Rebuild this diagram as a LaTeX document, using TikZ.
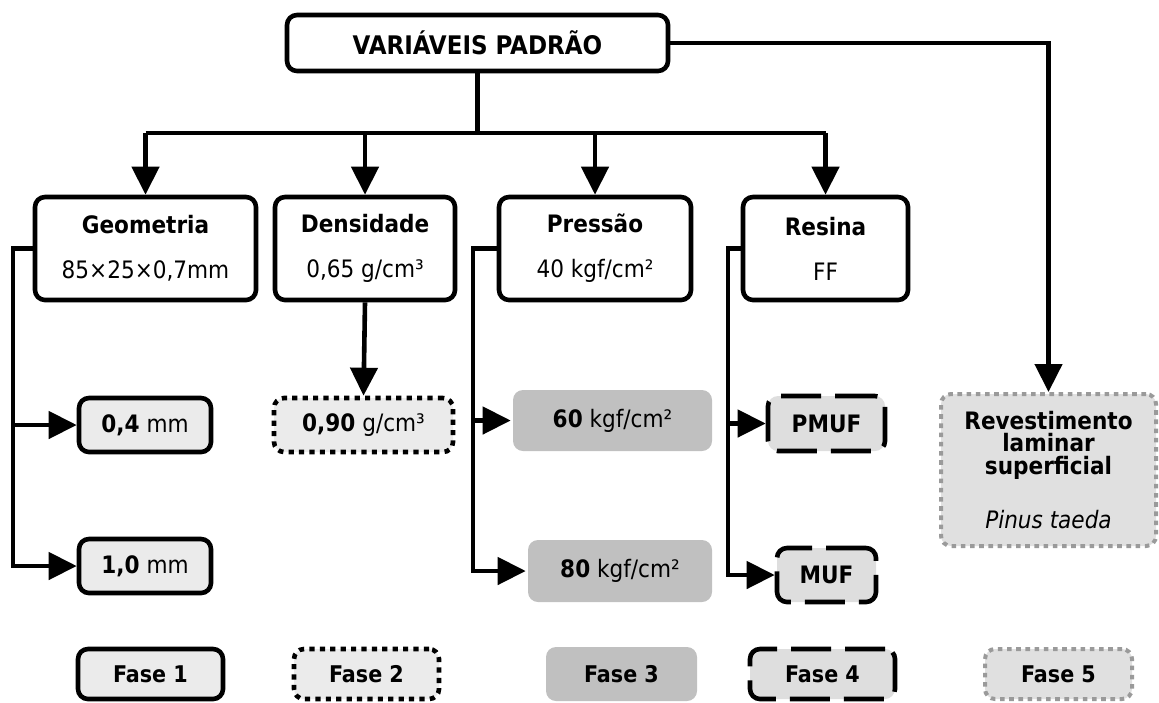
\documentclass[tikz,border=0pt]{standalone}
\usepackage{fontspec}
\IfFontExistsTF{DejaVu Sans Condensed}
  {\setmainfont{DejaVu Sans Condensed}}
  {\setmainfont{DejaVu Sans}[Scale=0.9]}
\usetikzlibrary{arrows.meta}

\definecolor{lightfill}{HTML}{EBEBEB}
\definecolor{midfill}{HTML}{C0C0C0}
\definecolor{dashfill}{HTML}{DEDEDE}
\definecolor{dotfill}{HTML}{E0E0E0}
\definecolor{dotgray}{HTML}{9A9A9A}

\begin{document}
\begin{tikzpicture}[
  x=0.5pt, y=-0.5pt,
  box/.style={draw, line width=2.3pt, rounded corners=5pt, align=center,
    inner sep=0pt, font=\fontsize{12}{22.5}\selectfont},
  solidbox/.style={box, fill=lightfill},
  dotbox/.style={box, fill=lightfill, dash pattern=on 2.6pt off 2.6pt},
  greybox/.style={box, draw=none, fill=midfill},
  dashbox/.style={box, fill=dashfill, dash pattern=on 20pt off 7pt},
  greydotbox/.style={box, draw=dotgray, line width=2pt, fill=dotfill, dash pattern=on 2.3pt off 2.3pt},
  link/.style={draw, line width=2.3pt},
  flow/.style={draw, line width=2.3pt, -{Triangle[length=14pt,width=13.5pt]}}
]
\useasboundingbox (0,0) rectangle (1159,702);

% Top
\node[box, minimum width=190.5pt, minimum height=28pt,
  font=\fontsize{12.8}{15}\selectfont\bfseries] (top) at (477.5,43) {VARIÁVEIS PADRÃO};

% Variables
\node[box, minimum width=110.5pt, minimum height=51.5pt] (geo) at (145.5,248.5)
  {\textbf{Geometria}\\85×25×0,7mm};
\node[box, minimum width=90pt, minimum height=51.5pt] (dens) at (365,248.5)
  {\textbf{Densidade}\\0,65 g/cm³};
\node[box, minimum width=96pt, minimum height=51.5pt] (pres) at (595,248.5)
  {\textbf{Pressão}\\40 kgf/cm²};
\node[box, minimum width=82.5pt, minimum height=51.5pt] (resin) at (825.5,248.5)
  {\textbf{Resina}\\FF};

% Levels
\node[solidbox, minimum width=66pt, minimum height=27pt] (g04) at (145,425) {\textbf{0,4} mm};
\node[solidbox, minimum width=66pt, minimum height=27pt] (g10) at (145,566) {\textbf{1,0} mm};
\node[dotbox, minimum width=89.5pt, minimum height=27pt] (d090) at (363.5,425) {\textbf{0,90} g/cm³};
\node[greybox, minimum width=99.5pt, minimum height=30.5pt] (p60) at (612.5,420.5) {\textbf{60} kgf/cm²};
\node[greybox, minimum width=92pt, minimum height=31pt] (p80) at (620,571) {\textbf{80} kgf/cm²};
\node[dashbox, minimum width=58.5pt, minimum height=27.5pt] (pmuf) at (826.5,423.5) {\textbf{PMUF}};
\node[dashbox, minimum width=49.5pt, minimum height=27pt] (muf) at (826.5,575) {\textbf{MUF}};
\node[greydotbox, minimum width=107.5pt, minimum height=76pt,
  font=\fontsize{12}{11.25}\selectfont] (rev) at (1048.5,470)
  {\textbf{Revestimento}\\\textbf{laminar}\\\textbf{superficial}\\[14.5pt]\textit{Pinus taeda}};

% Phases
\node[solidbox, minimum width=72.5pt, minimum height=25pt, font=\fontsize{11.5}{14}\selectfont\bfseries] (f1) at (150.5,674) {Fase 1};
\node[dotbox, minimum width=72.5pt, minimum height=25pt, font=\fontsize{11.5}{14}\selectfont\bfseries] (f2) at (366.5,674) {Fase 2};
\node[greybox, minimum width=75.5pt, minimum height=27pt, font=\fontsize{11.5}{14}\selectfont\bfseries] (f3) at (621.5,674) {Fase 3};
\node[dashbox, minimum width=72.5pt, minimum height=25pt, font=\fontsize{11.5}{14}\selectfont\bfseries] (f4) at (822.5,674) {Fase 4};
\node[greydotbox, minimum width=73.5pt, minimum height=25pt, font=\fontsize{11.5}{14}\selectfont\bfseries] (f5) at (1058.5,674) {Fase 5};

% Connectors
\coordinate (bar) at (477.5,133);
\coordinate (gx) at (13,0);
\coordinate (px) at (473,0);
\coordinate (rx) at (728,0);

\draw[link] (top.south) -- (bar);
\draw[link] (bar -| geo) -- (bar -| resin);
\foreach \n in {geo,dens,pres,resin}
  \draw[flow] (bar -| \n) -- (\n.north);
\draw[flow] (top.east) -| (rev.north);

\draw[flow] (geo.west) -- (geo.west -| gx) |- (g10.west);
\draw[flow] (gx |- g04) -- (g04.west);
\draw[flow] (dens.south) -- (d090.north);
\draw[flow] (pres.west) -- (pres.west -| px) |- (p80.west);
\draw[flow] (px |- p60) -- (p60.west);
\draw[flow] (resin.west) -- (resin.west -| rx) |- (muf.west);
\draw[flow] (rx |- pmuf) -- (pmuf.west);

\end{tikzpicture}
\end{document}
